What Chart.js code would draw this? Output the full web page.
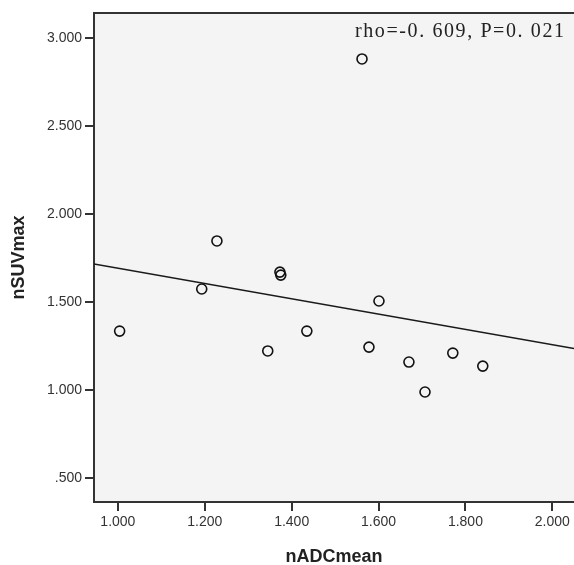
<!DOCTYPE html>
<html>
<head>
<meta charset="utf-8">
<script src="https://cdn.jsdelivr.net/npm/chart.js@4"></script>
<style>
  html, body { margin: 0; padding: 0; background: #fff; }
  #wrap { width: 574px; height: 565px; position: relative; }
</style>
</head>
<body>
<div id="wrap"><canvas id="scatterChart"></canvas></div>
<script>
// nADCmean vs nSUVmax
const nADCmean = [1.004, 1.193, 1.228, 1.345, 1.373, 1.375, 1.435, 1.562, 1.578, 1.601, 1.670, 1.707, 1.771, 1.840];
const nSUVmax = [1.335, 1.574, 1.847, 1.222, 1.670, 1.653, 1.335, 2.881, 1.244, 1.506, 1.159, 0.989, 1.210, 1.136];

// fitted line end points
const fitX = [0.945, 2.050];
const fitY = [1.716, 1.236];

const xTicks = [1.0, 1.2, 1.4, 1.6, 1.8, 2.0];
const xTickLabels = ['1.000', '1.200', '1.400', '1.600', '1.800', '2.000'];
const yTicks = [0.5, 1.0, 1.5, 2.0, 2.5, 3.0];
const yTickLabels = ['.500', '1.000', '1.500', '2.000', '2.500', '3.000'];

const statText = 'rho=-0. 609, P=0. 021';

const axisColor = '#333333';

const plotFrame = {
  id: 'plotFrame',
  beforeDraw(chart) {
    const { ctx, chartArea: a } = chart;
    ctx.save();
    ctx.fillStyle = '#f4f4f4';
    ctx.fillRect(a.left, a.top, a.right - a.left, a.bottom - a.top);
    ctx.strokeStyle = axisColor;
    ctx.lineWidth = 2;
    ctx.beginPath();
    ctx.moveTo(a.left, a.top);
    ctx.lineTo(a.right, a.top);
    ctx.stroke();
    ctx.restore();
  },
  afterDraw(chart) {
    const { ctx, chartArea: a } = chart;
    ctx.save();
    ctx.fillStyle = '#222';
    ctx.font = '20px "Liberation Serif", "DejaVu Serif", serif';
    ctx.letterSpacing = '1.6px';
    ctx.textBaseline = 'alphabetic';
    ctx.textAlign = 'left';
    ctx.fillText(statText, a.left + 261, a.top + 24);
    ctx.restore();
  }
};

const tickFont = { family: '"Liberation Sans", Arial, sans-serif', size: 14 };
const titleFont = { family: '"Liberation Sans", Arial, sans-serif', size: 18, weight: 'bold' };

new Chart(document.getElementById('scatterChart').getContext('2d'), {
  type: 'scatter',
  data: {
    datasets: [
      {
        label: 'fit',
        type: 'line',
        data: fitX.map((x, i) => ({ x: x, y: fitY[i] })),
        borderColor: '#1a1a1a',
        borderWidth: 1.5,
        pointRadius: 0,
        fill: false,
        tension: 0
      },
      {
        label: 'nSUVmax',
        data: nADCmean.map((x, i) => ({ x: x, y: nSUVmax[i] })),
        pointRadius: 5,
        pointBorderWidth: 1.6,
        borderColor: '#111111',
        backgroundColor: 'rgba(0,0,0,0)'
      }
    ]
  },
  options: {
    responsive: true,
    maintainAspectRatio: false,
    animation: false,
    layout: { autoPadding: false, padding: { top: 13, right: 0, left: 0, bottom: 0 } },
    plugins: {
      legend: { display: false },
      tooltip: { enabled: false }
    },
    scales: {
      x: {
        type: 'linear',
        min: 0.945,
        max: 2.050,
        afterFit: (s) => { s.height = 63; s.paddingRight = 0; s.paddingLeft = 0; },
        afterBuildTicks: (s) => { s.ticks = xTicks.map(v => ({ value: v })); },
        ticks: {
          color: axisColor,
          font: tickFont,
          padding: 3,
          maxRotation: 0,
          autoSkip: false,
          callback: (v) => xTickLabels[xTicks.findIndex(t => Math.abs(t - v) < 1e-6)]
        },
        grid: { drawOnChartArea: false, drawTicks: true, tickLength: 9, color: axisColor, lineWidth: 2 },
        border: { display: true, color: axisColor, width: 2 },
        title: { display: true, text: 'nADCmean', color: '#222', font: titleFont, padding: { top: 0, bottom: -3 } }
      },
      y: {
        type: 'linear',
        min: 0.364,
        max: 3.142,
        afterFit: (s) => { s.width = 94; s.paddingTop = 0; s.paddingBottom = 0; },
        afterBuildTicks: (s) => { s.ticks = yTicks.map(v => ({ value: v })); },
        ticks: {
          color: axisColor,
          font: tickFont,
          padding: 3,
          autoSkip: false,
          callback: (v) => yTickLabels[yTicks.findIndex(t => Math.abs(t - v) < 1e-6)]
        },
        grid: { drawOnChartArea: false, drawTicks: true, tickLength: 9, color: axisColor, lineWidth: 2 },
        border: { display: true, color: axisColor, width: 2 },
        title: { display: true, text: 'nSUVmax', color: '#222', font: titleFont, padding: { top: 8, bottom: 0 } }
      }
    }
  },
  plugins: [plotFrame]
});
</script>
</body>
</html>
